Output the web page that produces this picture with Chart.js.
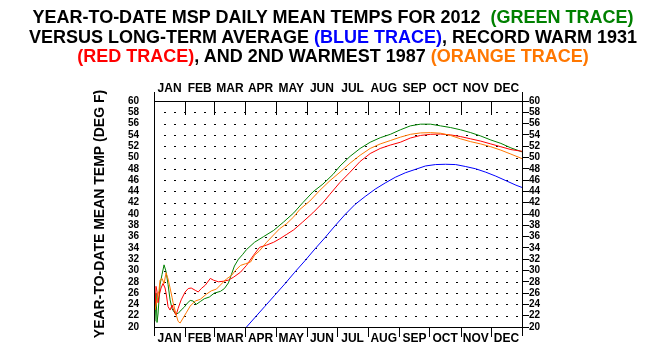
<!DOCTYPE html>
<html>
<head>
<meta charset="utf-8">
<script src="https://cdn.jsdelivr.net/npm/chart.js@4.4.1/dist/chart.umd.min.js"></script>
<style>
  body { margin: 0; background: #fff; }
  #wrap { position: relative; width: 658px; height: 360px; }
  #titulo {
    position: absolute; left: 4px; top: 8px; width: 658px;
    text-align: center; font: bold 18px 'Liberation Sans', Arial, sans-serif;
    line-height: 19.5px; color: #000; white-space: nowrap;
  }
  .g { color: #008000; } .b { color: #0000ff; } .r { color: #ff0000; } .o { color: #ff7700; }
</style>
</head>
<body>
<div id="wrap">
  <canvas id="grafico" width="658" height="360"></canvas>
  <div id="titulo">
    YEAR-TO-DATE MSP DAILY MEAN TEMPS FOR 2012&nbsp; <span class="g">(GREEN TRACE)</span><br>
    VERSUS LONG-TERM AVERAGE <span class="b">(BLUE TRACE)</span>, RECORD WARM 1931<br>
    <span class="r">(RED TRACE)</span>, AND 2ND WARMEST 1987 <span class="o">(ORANGE TRACE)</span>
  </div>
</div>
<script>
var meses = ['JAN', 'FEB', 'MAR', 'APR', 'MAY', 'JUN', 'JUL', 'AUG', 'SEP', 'OCT', 'NOV', 'DEC'];
var inicioMes = [0, 31, 60, 91, 121, 152, 182, 213, 244, 274, 305, 335, 366];

// 2012 (verde)
var dias2012 = [1, 2, 3, 4, 6, 8, 10, 12, 14, 16, 18, 21, 24, 27, 30, 33, 36, 39, 42, 46, 50, 55, 60, 66, 70, 74, 77, 80, 84, 88, 92,
    100, 109, 119, 129, 139, 148, 158, 168, 178, 185, 195, 205, 215, 225, 235, 245, 255, 265, 275, 285, 295, 305, 315, 325, 335, 345, 355, 366];
var temp2012 = [21.0, 26.0, 20.8, 22.3, 27.5, 29.3, 31.0, 29.8, 27.5, 24.8, 23.2, 22.4, 22.4, 23.0, 23.5, 24.2, 24.7, 24.6, 24.0, 24.5, 25.0, 25.3, 26.0, 26.3, 26.8, 27.8, 29.3, 30.8, 32.0, 32.8, 33.7,
    35.0, 36.0, 37.1, 38.6, 40.2, 42.0, 43.9, 45.3, 47.0, 48.5, 50.2, 51.6, 52.7, 53.5, 54.1, 54.9, 55.6, 55.9, 55.9, 55.6, 55.3, 54.9, 54.4, 53.8, 53.1, 52.5, 51.7, 51.0];

// 1931 (vermelho)
var dias1931 = [1, 2, 3, 4, 5, 7, 9, 11, 12, 14, 16, 18, 19, 21, 22, 24, 27, 31, 34, 37, 41, 44, 47, 51, 56, 59, 64, 69, 74, 79, 86, 92,
    99, 105, 112, 119, 125, 132, 139, 148, 158, 168, 175, 185, 195, 205, 215, 225, 235, 245, 255, 265, 275, 285, 295, 305, 315, 325, 335, 345, 355, 366];
var temp1931 = [23.0, 27.2, 26.3, 24.3, 25.5, 26.9, 27.7, 26.9, 26.0, 23.6, 23.0, 23.9, 23.3, 22.4, 22.1, 23.3, 24.8, 26.2, 26.8, 26.9, 26.5, 26.2, 26.8, 27.4, 28.6, 28.3, 28.0, 28.1, 28.3, 28.8, 29.7, 30.9,
    32.7, 34.1, 34.5, 35.0, 35.6, 36.4, 37.2, 38.6, 40.2, 42.0, 43.5, 45.6, 47.4, 49.3, 50.7, 51.6, 52.2, 52.7, 53.45, 53.9, 54.1, 54.15, 54.0, 53.7, 53.3, 52.9, 52.4, 51.9, 51.4, 51.1];

// 1987 (laranja)
var dias1987 = [1, 3, 5, 6, 8, 10, 12, 14, 16, 18, 19, 22, 24, 26, 29, 32, 36, 41, 46, 52, 57, 62, 67, 72, 77, 81, 86, 91, 96,
    100, 105, 112, 119, 125, 132, 139, 145, 155, 165, 175, 185, 195, 205, 215, 225, 235, 245, 255, 265, 275, 285, 295, 305, 315, 325, 335, 345, 355, 366];
var temp1987 = [23.0, 24.8, 26.5, 28.3, 28.6, 27.7, 29.6, 28.5, 26.9, 25.2, 24.3, 22.2, 21.0, 20.7, 21.6, 22.5, 23.7, 24.6, 24.9, 25.8, 26.4, 26.7, 27.6, 28.5, 29.1, 30.0, 30.9, 31.2, 31.5,
    32.7, 33.5, 35.0, 36.3, 37.4, 38.3, 39.5, 40.8, 42.3, 44.2, 45.9, 47.4, 49.0, 50.4, 51.6, 52.4, 53.0, 53.6, 54.1, 54.35, 54.4, 54.3, 53.9, 53.3, 52.8, 52.4, 51.9, 51.3, 50.6, 49.8];

// media de longo prazo (azul)
var diasMedia = [92, 100, 110, 120, 130, 140, 150, 160, 170, 180, 190, 200, 210, 220, 230, 240, 250, 260, 270, 280, 290, 300, 310, 320, 330, 340, 350, 360, 366];
var tempMedia = [20.0, 21.6, 23.6, 25.6, 27.6, 29.7, 31.7, 33.8, 35.8, 37.9, 39.9, 41.7, 43.1, 44.4, 45.5, 46.5, 47.3, 47.9, 48.5, 48.75, 48.8, 48.75, 48.4, 48.0, 47.4, 46.7, 45.9, 45.1, 44.7];

var fonte = "'Liberation Sans', Arial, sans-serif";

function pontos(dias, temps) {
    return dias.map(function (d, i) { return { x: d, y: temps[i] }; });
}

var meioMes = meses.map(function (m, i) { return (inicioMes[i] + inicioMes[i + 1]) / 2; });

var enfeites = {
    id: 'enfeites',
    beforeDatasetsDraw: function (chart) {
        var ctx = chart.ctx, x = chart.scales.x, y = chart.scales.y;
        ctx.save();
        ctx.fillStyle = '#000';
        for (var t = 22; t <= 58; t += 2) {
            for (var d = 10; d <= 360; d += 10) {
                ctx.fillRect(Math.round(x.getPixelForValue(d)), Math.round(y.getPixelForValue(t)), 2, 1);
            }
        }
        ctx.restore();
    },
    afterDraw: function (chart) {
        var ctx = chart.ctx, a = chart.chartArea, x = chart.scales.x;
        ctx.save();
        ctx.strokeStyle = '#000';
        ctx.lineWidth = 1;
        ctx.beginPath();
        inicioMes.slice(1, -1).forEach(function (v) {
            var px = Math.round(x.getPixelForValue(v)) + 0.5;
            ctx.moveTo(px, a.top); ctx.lineTo(px, a.top + 14);
            ctx.moveTo(px, a.bottom); ctx.lineTo(px, a.bottom + 10);
        });
        [a.left, a.right].forEach(function (p) {
            var px = Math.round(p) + 0.5;
            ctx.moveTo(px, a.top - 9); ctx.lineTo(px, a.bottom + 9);
        });
        ctx.stroke();
        ctx.restore();
    }
};

function eixoMes(posicao, pad, altura) {
    return {
        type: 'linear', position: posicao, min: 0, max: 366,
        afterBuildTicks: function (s) { s.ticks = meioMes.map(function (v) { return { value: v }; }); },
        afterFit: function (s) { s.height = altura; },
        grid: { display: false, drawTicks: false },
        border: { display: true, color: '#000', width: 1 },
        ticks: {
            autoSkip: false, maxRotation: 0, padding: pad, color: '#000',
            font: { family: fonte, size: 12, weight: 'bold' },
            callback: function (v, i) { return meses[i]; }
        }
    };
}

new Chart(document.getElementById('grafico').getContext('2d'), {
    type: 'line',
    data: {
        datasets: [
            { data: pontos(diasMedia, tempMedia), borderColor: '#0000ff' },
            { data: pontos(dias1987, temp1987), borderColor: '#ff7700' },
            { data: pontos(dias1931, temp1931), borderColor: '#ff0000' },
            { data: pontos(dias2012, temp2012), borderColor: '#008000' }
        ]
    },
    options: {
        responsive: false,
        animation: false,
        devicePixelRatio: 1,
        layout: { padding: 0 },
        parsing: false,
        elements: { line: { borderWidth: 1, tension: 0 }, point: { radius: 0 } },
        plugins: { legend: { display: false }, title: { display: false }, tooltip: { enabled: false } },
        scales: {
            x: eixoMes('bottom', 4, 33),
            xTopo: eixoMes('top', 5, 101),
            y: {
                type: 'linear', position: 'left', min: 20, max: 60,
                afterFit: function (s) { s.width = 154; },
                grid: { display: false, drawTicks: false },
                border: { display: true, color: '#000', width: 1 },
                ticks: { stepSize: 2, autoSkip: false, padding: 15, color: '#000', font: { family: fonte, size: 10, weight: 'bold' } },
                title: {
                    display: true, text: 'YEAR-TO-DATE MEAN TEMP (DEG F)', color: '#000',
                    font: { family: fonte, size: 14, weight: 'bold' }, padding: { top: 92, bottom: 0 }
                }
            },
            y2: {
                type: 'linear', position: 'right', min: 20, max: 60,
                afterFit: function (s) { s.width = 136; },
                grid: { display: true, drawOnChartArea: false, drawTicks: true, tickLength: 7, color: '#000' },
                border: { display: true, color: '#000', width: 1 },
                ticks: { stepSize: 2, autoSkip: false, padding: 0, color: '#000', font: { family: fonte, size: 10, weight: 'bold' } }
            }
        }
    },
    plugins: [enfeites]
});
</script>
</body>
</html>
